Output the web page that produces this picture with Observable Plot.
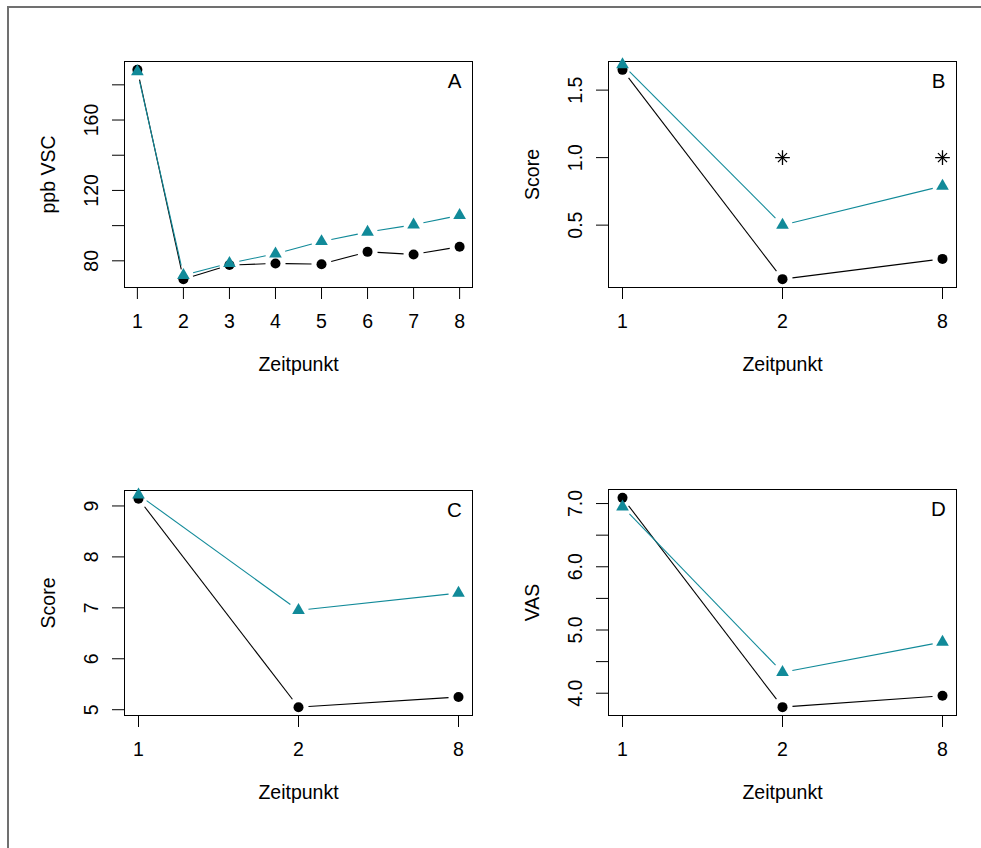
<!DOCTYPE html>
<html>
<head>
<meta charset="utf-8">
<script src="https://cdn.jsdelivr.net/npm/d3@7"></script>
<script src="https://cdn.jsdelivr.net/npm/@observablehq/plot@0.6"></script>
<style>
  body { margin: 0; background: #fff; }
  #wrap { position: relative; width: 981px; height: 848px; overflow: hidden; background: #fff;
          font-family: "Liberation Sans", Arial, Helvetica, sans-serif; }
  #frame { position: absolute; left: 7px; top: 6px; width: 990px; height: 860px;
           border-left: 2px solid #707070; border-top: 2px solid #707070; }
  .panel { position: absolute; }
</style>
</head>
<body>
<div id="wrap"><div id="frame"></div></div>
<script>
// ---- data ----
const zeitA = [1, 2, 3, 4, 5, 6, 7, 8];
const vscSchwarz = [188.5, 69.6, 77.6, 78.5, 78.1, 85.1, 83.6, 88.0];
const vscTuerkis = [187.5, 71.8, 78.6, 84.0, 91.0, 96.3, 100.5, 105.8];
const ticksA = [80, 100, 120, 140, 160, 180];
const labelsA = [80, 120, 160];

const zeitBCD = ["1", "2", "8"];

const scoreBSchwarz = [1.65, 0.10, 0.25];
const scoreBTuerkis = [1.69, 0.50, 0.79];
const sternB = ["2", "8"];
const sternBWert = [1.0, 1.0];
const ticksB = [0.5, 1.0, 1.5];
const labelsB = [0.5, 1.0, 1.5];

const scoreCSchwarz = [9.14, 5.05, 5.25];
const scoreCTuerkis = [9.22, 6.95, 7.29];
const ticksC = [5, 6, 7, 8, 9];
const labelsC = [5, 6, 7, 8, 9];

const vasDSchwarz = [7.09, 3.78, 3.96];
const vasDTuerkis = [6.95, 4.33, 4.81];
const ticksD = [4.0, 4.5, 5.0, 5.5, 6.0, 6.5, 7.0];
const labelsD = [4.0, 5.0, 6.0, 7.0];

const schwarz = "#000000";
const tuerkis = "#118a99";
const FONT = "Liberation Sans, Arial, Helvetica, sans-serif";

function rlim(vals) {
  const [a, b] = d3.extent(vals);
  const p = (b - a) * 0.04;
  return [a - p, b + p];
}
function segs(xs, ys) {
  const out = [];
  for (let i = 0; i < xs.length - 1; i++) out.push({x1: xs[i], y1: ys[i], x2: xs[i + 1], y2: ys[i + 1]});
  return out;
}

function panel(cfg) {
  const {xs, xScale, black, teal, yTicks, yLabels, yFmt, ylab, letter,
         left, top, width, height, ml, mr, mt, mb, extra = []} = cfg;
  const rows = (ys) => xs.map((x, i) => ({x, y: ys[i]}));
  const plot = Plot.plot({
    width, height,
    marginLeft: ml, marginRight: mr, marginTop: mt, marginBottom: mb,
    x: xScale,
    y: {domain: rlim(black)},
    style: {fontFamily: FONT, background: "transparent", overflow: "visible", color: "black"},
    marks: [
      Plot.frame({stroke: "black", strokeWidth: 1}),
      Plot.axisX({ticks: xs, tickSize: 12, tickFormat: () => "", label: null, strokeWidth: 1}),
      Plot.axisY({ticks: yTicks, tickSize: 12, tickFormat: () => "", label: null, strokeWidth: 1}),
      Plot.text(xs, {x: d => d, text: d => String(d), frameAnchor: "bottom", dy: 34,
                     lineAnchor: "middle", textAnchor: "middle", fontSize: 19.5, fill: "black"}),
      Plot.text(yLabels, {y: d => d, text: yFmt, frameAnchor: "left", dx: -33, rotate: -90,
                          lineAnchor: "middle", textAnchor: "middle", fontSize: 19.5, fill: "black"}),
      Plot.text(["Zeitpunkt"], {frameAnchor: "bottom", dy: 77, lineAnchor: "middle",
                                textAnchor: "middle", fontSize: 19.5, fill: "black"}),
      Plot.text([ylab], {frameAnchor: "left", dx: -76, rotate: -90, lineAnchor: "middle",
                         textAnchor: "middle", fontSize: 19.5, fill: "black"}),
      Plot.text([letter], {frameAnchor: "top-right", dx: -18, dy: 20, lineAnchor: "middle",
                           textAnchor: "middle", fontSize: 20.5, fill: "black"}),
      Plot.arrow(segs(xs, black), {x1: "x1", y1: "y1", x2: "x2", y2: "y2", bend: 0, headLength: 0,
                                   insetStart: 10, insetEnd: 10, stroke: schwarz, strokeWidth: 1.1,
                                   strokeLinecap: "butt"}),
      Plot.dot(rows(black), {x: "x", y: "y", r: 5, fill: schwarz, stroke: null}),
      Plot.arrow(segs(xs, teal), {x1: "x1", y1: "y1", x2: "x2", y2: "y2", bend: 0, headLength: 0,
                                  insetStart: 10, insetEnd: 10, stroke: tuerkis, strokeWidth: 1.1,
                                  strokeLinecap: "butt"}),
      Plot.dot(rows(teal), {x: "x", y: "y", r: 4.7, symbol: "triangle", fill: tuerkis, stroke: null}),
      ...extra
    ]
  });
  plot.classList.add("panel");
  plot.style.left = left + "px";
  plot.style.top = top + "px";
  document.getElementById("wrap").appendChild(plot);
}

const pointX = {type: "point", domain: zeitBCD, padding: 0.082};

// A
panel({xs: zeitA, xScale: {type: "linear", domain: [0.72, 8.28]},
       black: vscSchwarz, teal: vscTuerkis, yTicks: ticksA, yLabels: labelsA, yFmt: d => String(d),
       ylab: "ppb VSC", letter: "A",
       left: 0, top: 0, width: 490, height: 424, ml: 124, mr: 18, mt: 61, mb: 137});

// B
const sterne = sternB.map((x, i) => ({x, y: sternBWert[i]}));
panel({xs: zeitBCD, xScale: pointX,
       black: scoreBSchwarz, teal: scoreBTuerkis, yTicks: ticksB, yLabels: labelsB, yFmt: d => d.toFixed(1),
       ylab: "Score", letter: "B",
       left: 490, top: 0, width: 491, height: 424, ml: 118, mr: 25, mt: 61, mb: 137,
       extra: [
         Plot.dot(sterne, {x: "x", y: "y", symbol: "plus", r: 4.8, stroke: "black", fill: "none", strokeWidth: 1.3}),
         Plot.dot(sterne, {x: "x", y: "y", symbol: "times", r: 4.2, stroke: "black", fill: "none", strokeWidth: 1.3})
       ]});

// C
panel({xs: zeitBCD, xScale: pointX,
       black: scoreCSchwarz, teal: scoreCTuerkis, yTicks: ticksC, yLabels: labelsC, yFmt: d => String(d),
       ylab: "Score", letter: "C",
       left: 0, top: 424, width: 490, height: 424, ml: 124, mr: 18, mt: 66, mb: 133});

// D
panel({xs: zeitBCD, xScale: pointX,
       black: vasDSchwarz, teal: vasDTuerkis, yTicks: ticksD, yLabels: labelsD, yFmt: d => d.toFixed(1),
       ylab: "VAS", letter: "D",
       left: 490, top: 424, width: 491, height: 424, ml: 118, mr: 25, mt: 65, mb: 133});
</script>
</body>
</html>
